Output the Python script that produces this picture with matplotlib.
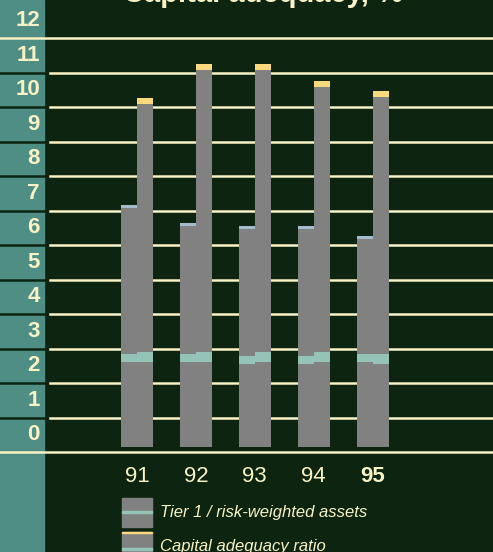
import matplotlib
matplotlib.use('Agg')
import matplotlib.pyplot as plt
from matplotlib.patches import Rectangle

# Datos (%)
years = ['91', '92', '93', '94', '95']
tier1 = [7.0, 6.5, 6.4, 6.4, 6.1]          # Tier 1 / risk-weighted assets
car = [10.1, 11.1, 11.1, 10.6, 10.3]       # Capital adequacy ratio
tier1_band = [2.47, 2.47, 2.40, 2.40, 2.47]
car_band = [2.47, 2.47, 2.47, 2.47, 2.40]
y_ticks = list(range(13))

# Colores
bg = '#0c2410'
panel = '#4e8e84'
cream = '#f8f2c4'
gray = '#818181'
blue_cap = '#a4bccc'
yellow = '#fcd87c'
band = '#94c4b8'

plt.rcParams['font.family'] = ['Liberation Sans Narrow', 'Liberation Sans', 'DejaVu Sans']

W, H = 493, 552
fig = plt.figure(figsize=(W / 100, H / 100), dpi=100, facecolor=bg)
ax = fig.add_axes([0, 0, 1, 1])
ax.set_facecolor(bg)
ax.axis('off')

# escala: 0 a 452 px desde arriba, 34.5 px por unidad
unit = 34.5
ax.set_ylim(-(H - 452) / unit, 452 / unit)
step = 58.9
ax.set_xlim(-137 / step, (W - 137) / step)

def fx(px):
    return px / W

def fy(py):
    return 1 - py / H

# panel izquierdo
ax.add_patch(Rectangle((0, 0), fx(44), 1, transform=ax.transAxes, color=panel, zorder=0))

# líneas horizontales
for k in y_ticks:
    if k in (0, 12):
        ax.axhline(k, color=cream, lw=1.8, zorder=1)
    else:
        ax.axhline(k, xmin=fx(50), xmax=1, color=cream, lw=1.8, zorder=1)
        ax.axhline(k, xmin=0, xmax=fx(44), color=bg, lw=1.8, zorder=1)
    ax.text(fx(40), k + 0.5, str(k), transform=ax.get_yaxis_transform(),
            ha='right', va='center', fontsize=16, fontweight='bold', color=cream)

# barras
base = 0.15
w = 16 / step
for i in range(len(years)):
    # Tier 1 (izquierda)
    ax.bar(i, tier1[i] - 0.09, width=w, bottom=base, align='edge', color=gray, zorder=3)
    ax.bar(i - w, tier1[i] - 0.09, width=w, bottom=base, align='edge', color=gray, zorder=3)
    ax.bar(i - w, 0.09, width=w, bottom=base + tier1[i] - 0.09, align='edge', color=blue_cap, zorder=3)
    ax.bar(i - w, 0.23, width=w, bottom=base + tier1_band[i], align='edge', color=band, zorder=4)
    # Capital adequacy (derecha)
    ax.bar(i, car[i] - 0.17, width=w, bottom=base, align='edge', color=gray, zorder=3)
    ax.bar(i, 0.17, width=w, bottom=base + car[i] - 0.17, align='edge', color=yellow, zorder=3)
    ax.bar(i, 0.29, width=w, bottom=base + car_band[i], align='edge', color=band, zorder=4)
    ax.text(i, -0.70, years[i], ha='center', va='center', fontsize=16, color=cream,
            fontweight='bold' if years[i] == '95' else 'normal')

# título (cortado arriba, como en el original)
fig.text(fx(263), fy(2), 'Capital adequacy, %', ha='center', va='baseline',
         fontsize=21, fontweight='bold', color=cream)

# leyenda
fig.patches.append(Rectangle((fx(122), fy(527)), fx(30), 29 / H, transform=fig.transFigure, color=gray))
fig.patches.append(Rectangle((fx(122), fy(512.7)), fx(30), 2 / H, transform=fig.transFigure, color=band))
fig.text(fx(160), fy(513), 'Tier 1 / risk-weighted assets', ha='left', va='center',
         fontsize=12, style='italic', color=cream)
fig.patches.append(Rectangle((fx(122), 0), fx(30), 20 / H, transform=fig.transFigure, color=gray))
fig.patches.append(Rectangle((fx(122), fy(533)), fx(30), 1.5 / H, transform=fig.transFigure, color=yellow))
fig.patches.append(Rectangle((fx(122), fy(550)), fx(30), 2 / H, transform=fig.transFigure, color=band))
fig.text(fx(160), fy(546), 'Capital adequacy ratio', ha='left', va='center',
         fontsize=12, style='italic', color=cream)

fig.savefig('out.png', dpi=100, facecolor=bg)
